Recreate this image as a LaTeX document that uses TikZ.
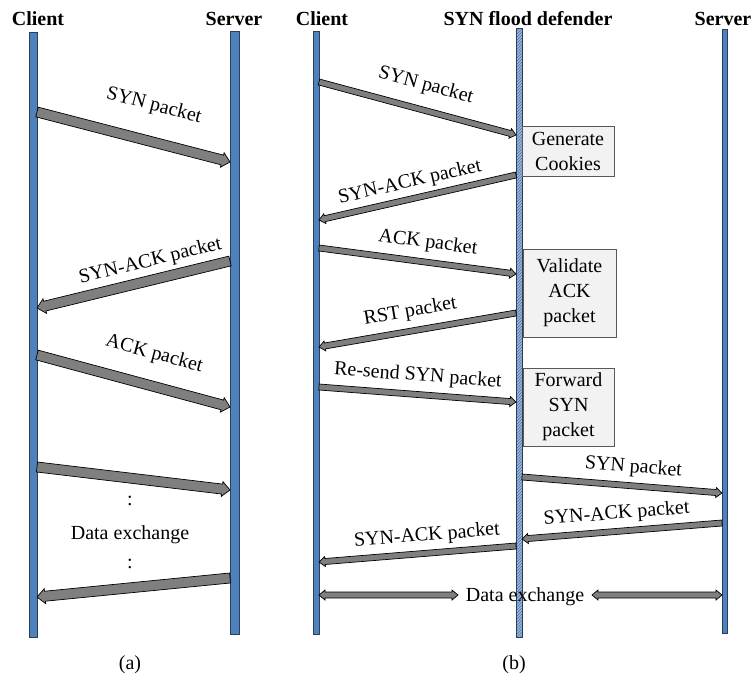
\documentclass[tikz,border=0pt]{standalone}
\usepackage{fontspec}
\setmainfont{Liberation Serif}
\usetikzlibrary{calc,patterns}
\definecolor{lifeblue}{HTML}{4F81BD}
\definecolor{lifeedge}{HTML}{2A3F5A}
\definecolor{defblue}{HTML}{9BB7DA}
\definecolor{hatchblue}{HTML}{4F75A8}
\definecolor{arrgray}{HTML}{7F7F7F}
\definecolor{boxfill}{HTML}{F2F2F2}
\definecolor{boxedge}{HTML}{595959}
\tikzset{
  lifeline/.style={fill=lifeblue, draw=lifeedge, line width=0.8pt},
  fatstyle/.style={fill=arrgray, draw=black, line width=0.7pt, line join=miter},
  lbl/.style={font=\fontsize{20}{24}\selectfont, inner sep=1pt},
  ttl/.style={font=\fontsize{20}{24}\selectfont\bfseries, anchor=base, inner sep=0pt},
  boxnode/.style={draw=boxedge, fill=boxfill, line width=0.8pt, align=center,
    font=\fontsize{20}{25}\selectfont, inner sep=0pt},
}
% single-headed fat arrow: from, to, half shaft, half head, head length
\newcommand\fatarrow[5]{%
  \filldraw[fatstyle] let \p1=(#1), \p2=(#2),
    \n1={atan2(\y2-\y1,\x2-\x1)}, \n2={veclen(\x2-\x1,\y2-\y1)}, \n3={\n2-#5} in
    [shift={(\p1)}, rotate=\n1]
    (0pt,-#3pt) -- (\n3,-#3pt) -- (\n3,-#4pt) -- (\n2,0pt) --
    (\n3,#4pt) -- (\n3,#3pt) -- (0pt,#3pt) -- cycle;}
% double-headed fat arrow
\newcommand\dblarrow[5]{%
  \filldraw[fatstyle] let \p1=(#1), \p2=(#2),
    \n1={atan2(\y2-\y1,\x2-\x1)}, \n2={veclen(\x2-\x1,\y2-\y1)}, \n3={\n2-#5} in
    [shift={(\p1)}, rotate=\n1]
    (0pt,0pt) -- (#5pt,#4pt) -- (#5pt,#3pt) -- (\n3,#3pt) -- (\n3,#4pt) --
    (\n2,0pt) -- (\n3,-#4pt) -- (\n3,-#3pt) -- (#5pt,-#3pt) -- (#5pt,-#4pt) -- cycle;}
\begin{document}
\begin{tikzpicture}[x=1pt,y=-1pt]
\useasboundingbox (0,0) rectangle (752,680);

% ---------- titles ----------
\node[ttl] (ta1) at (38,25) {Client};
\node[ttl] (ta2) at (234,25) {Server};
\node[ttl] (tb1) at (322,25) {Client};
\node[ttl] (tb2) at (528,25) {SYN flood defender};
\node[ttl] (tb3) at (723,25) {Server};

% ---------- lifelines ----------
\draw[lifeline] (29,32) rectangle (37,637);
\draw[lifeline] (230,31) rectangle (239,634);
\draw[lifeline] (313,31) rectangle (319,634);
\fill[defblue] (516,28) rectangle (522,637);
\fill[pattern=north east lines, pattern color=hatchblue] (516,28) rectangle (522,637);
\draw[draw=lifeedge, line width=0.8pt] (516,28) rectangle (522,637);
\draw[lifeline] (722,29) rectangle (727,633);

% ---------- coordinates ----------
\coordinate (a1s) at (37,112);  \coordinate (a1e) at (230,162);
\coordinate (a2s) at (230,261); \coordinate (a2e) at (37,308);
\coordinate (a3s) at (37,355);  \coordinate (a3e) at (230,407);
\coordinate (a4s) at (37,467);  \coordinate (a4e) at (230,490);
\coordinate (a5s) at (230,578); \coordinate (a5e) at (37,597);

\coordinate (b1s) at (319,82);  \coordinate (b1e) at (516,135);
\coordinate (b2s) at (516,175); \coordinate (b2e) at (319,220);
\coordinate (b3s) at (319,248); \coordinate (b3e) at (516,274);
\coordinate (b4s) at (516,313); \coordinate (b4e) at (319,347);
\coordinate (b5s) at (319,387); \coordinate (b5e) at (516,402);
\coordinate (b6s) at (522,477); \coordinate (b6e) at (722,493);
\coordinate (b7s) at (722,523); \coordinate (b7e) at (522,539);
\coordinate (b8s) at (516,546); \coordinate (b8e) at (319,562);
\coordinate (b9s) at (319,595); \coordinate (b9e) at (458,595);
\coordinate (b10s) at (592,595); \coordinate (b10e) at (722,595);

% ---------- arrows (a) ----------
\fatarrow{a1s}{a1e}{5}{7.5}{8}
\fatarrow{a2s}{a2e}{5}{7.5}{8}
\fatarrow{a3s}{a3e}{5}{7.5}{8}
\fatarrow{a4s}{a4e}{5}{7.5}{8}
\fatarrow{a5s}{a5e}{5}{7.5}{8}

\path (a1s) -- node[lbl, sloped, above=25pt, pos=0.56] {SYN packet} (a1e);
\path (a2s) -- node[lbl, sloped, above=8pt, pos=0.39] {SYN-ACK packet} (a2e);
\path (a3s) -- node[lbl, sloped, above=21pt, pos=0.565] {ACK packet} (a3e);
\node[lbl] (d1) at (130,501) {:};
\node[lbl] (dx) at (130,535) {Data exchange};
\node[lbl] (d2) at (130,564) {:};
\node[lbl] (capa) at (130,665) {(a)};

% ---------- arrows (b) ----------
\fatarrow{b1s}{b1e}{3}{5}{6}
\fatarrow{b2s}{b2e}{3}{5}{6}
\fatarrow{b3s}{b3e}{3}{5}{6}
\fatarrow{b4s}{b4e}{3}{5}{6}
\fatarrow{b5s}{b5e}{3}{5}{6}
\fatarrow{b6s}{b6e}{3}{5}{6}
\fatarrow{b7s}{b7e}{3}{5}{6}
\fatarrow{b8s}{b8e}{3}{5}{6}
\dblarrow{b9s}{b9e}{3}{5}{6}
\dblarrow{b10s}{b10e}{3}{5}{6}

\path (b1s) -- node[lbl, sloped, above=14pt, pos=0.51] {SYN packet} (b1e);
\path (b2s) -- node[lbl, sloped, above=6pt, pos=0.52] {SYN-ACK packet} (b2e);
\path (b3s) -- node[lbl, sloped, above=9pt, pos=0.54] {ACK packet} (b3e);
\path (b4s) -- node[lbl, sloped, above=9pt, pos=0.52] {RST packet} (b4e);
\path (b5s) -- node[lbl, sloped, above=8pt, pos=0.495] {Re-send SYN packet} (b5e);
\path (b6s) -- node[lbl, sloped, above=8pt, pos=0.55] {SYN packet} (b6e);
\path (b7s) -- node[lbl, sloped, above=7pt, pos=0.52] {SYN-ACK packet} (b7e);
\path (b8s) -- node[lbl, sloped, above=7pt, pos=0.445] {SYN-ACK packet} (b8e);
\node[lbl] (dxb) at (525,597) {Data exchange};
\node[lbl] (capb) at (514,665) {(b)};

% ---------- boxes ----------
\node[boxnode, minimum width=92pt, minimum height=50pt] (gen) at (568,151) {Generate\\Cookies};
\node[boxnode, minimum width=93pt, minimum height=88pt] (val) at (569.5,293) {Validate\\ACK\\packet};
\node[boxnode, minimum width=91pt, minimum height=78pt] (fwd) at (568.5,407) {Forward\\SYN\\packet};
\end{tikzpicture}
\end{document}
